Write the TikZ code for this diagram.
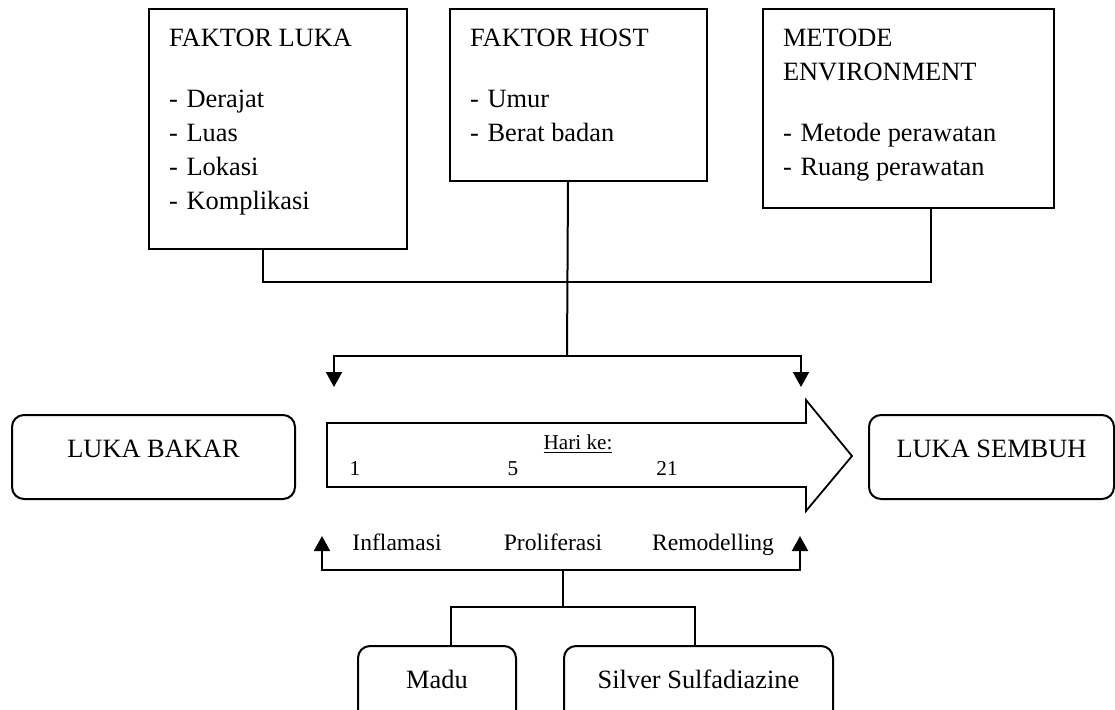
\documentclass[tikz,border=0pt]{standalone}
\usepackage{fontspec}
\setmainfont{Liberation Serif}
\usetikzlibrary{arrows.meta}

\newcommand{\isikotak}[3]{\parbox[c][#2][t]{#1}{#3}}
\newcommand{\butir}{-\hspace{0.33em}}

\begin{document}
\begin{tikzpicture}[x=0.5pt,y=-0.5pt,>={Triangle[width=8pt,length=7.5pt]},line width=1pt,
  faktor/.style={draw,anchor=north west,inner xsep=10pt,inner ysep=10pt,font=\fontsize{13.2}{17}\selectfont},
  ujung/.style={draw,rounded corners=6pt,anchor=north west,minimum height=42pt,
    text height=8pt,text depth=8pt,inner xsep=0pt,font=\fontsize{13.2}{16}\selectfont},
  fase/.style={anchor=base,font=\fontsize{11.8}{14}\selectfont},
  hari/.style={anchor=base,font=\fontsize{10.6}{13}\selectfont}]

  \useasboundingbox (0,0) rectangle (1115,709);

  % faktor-faktor
  \node[faktor] (luka) at (148,8) {\isikotak{109pt}{100pt}{FAKTOR LUKA\\[13.5pt]\butir Derajat\\\butir Luas\\\butir Lokasi\\\butir Komplikasi}};
  \node[faktor] (host) at (449,8) {\isikotak{108.5pt}{66pt}{FAKTOR HOST\\[13.5pt]\butir Umur\\\butir Berat badan}};
  \node[faktor] (env) at (762,8) {\isikotak{125.5pt}{79.5pt}{METODE\\ENVIRONMENT\\[13.5pt]\butir Metode perawatan\\\butir Ruang perawatan}};

  % awal dan akhir
  \node[ujung,minimum width=141.5pt] (bakar) at (11,414) {LUKA BAKAR};
  \node[ujung,minimum width=122.5pt] (sembuh) at (868,414) {LUKA SEMBUH};

  % panah hari
  \draw[line width=0.9pt] (327,423) -- (806,423) -- (806,400) -- (852,456)
    -- (806,511) -- (806,487) -- (327,487) -- cycle;
  \node[hari] (harike) at (578,449) {\underline{Hari ke:}};
  \node[hari] (h1) at (355,475) {1};
  \node[hari] (h5) at (513,475) {5};
  \node[hari] (h21) at (667,475) {21};

  \node[fase] (inf) at (397,550) {Inflamasi};
  \node[fase] (pro) at (553,550) {Proliferasi};
  \node[fase] (rem) at (713,550) {Remodelling};

  % perlakuan
  \node[ujung,minimum width=79pt] (madu) at (357,645) {Madu};
  \node[ujung,minimum width=134.5pt] (ssd) at (563,645) {Silver Sulfadiazine};

  % garis atas
  \coordinate (gabung) at (567,282);
  \coordinate (atas) at (567,356);
  \coordinate (masuk1) at (334,387);
  \coordinate (masuk2) at (801,387);
  \draw ([xshift=-7.5pt]luka.south) |- (gabung) -| ([xshift=11.25pt]env.south);
  \draw ([xshift=-5.25pt]host.south) -- (atas);
  \draw[->] (atas) -| (masuk1);
  \draw[->] (atas) -| (masuk2);

  % garis bawah
  \coordinate (bawah) at (563,570);
  \coordinate (cabang) at (563,607);
  \coordinate (keluar1) at (322,536);
  \coordinate (keluar2) at (800,536);
  \draw[->] (bawah) -| (keluar1);
  \draw[->] (bawah) -| (keluar2);
  \draw (bawah) -- (cabang);
  \draw ([xshift=7pt]madu.north) |- (cabang) -| ([xshift=-1.75pt]ssd.north);

\end{tikzpicture}
\end{document}
